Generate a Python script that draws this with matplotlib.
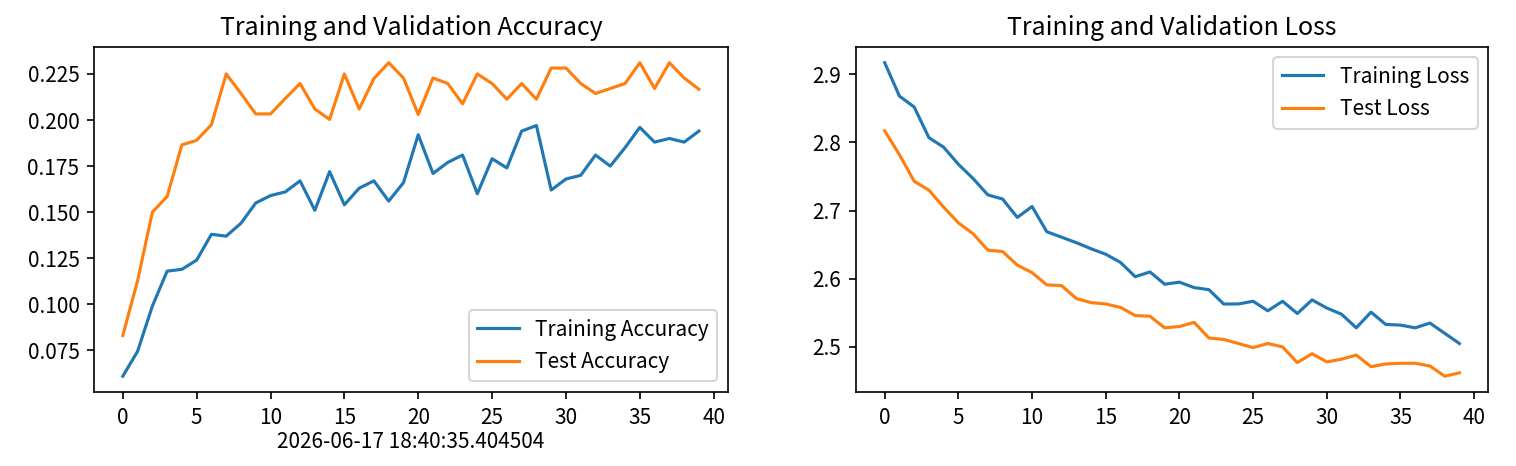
import numpy as np
import matplotlib
matplotlib.use("Agg")
import matplotlib.pyplot as plt

plt.rcParams['font.family'] = ['Noto Sans CJK SC', 'DejaVu Sans']
plt.rcParams['axes.unicode_minus'] = False

epochs = list(range(40))

train_acc = [0.061, 0.0745, 0.099, 0.118, 0.119, 0.124, 0.138, 0.137, 0.144, 0.155,
             0.159, 0.161, 0.167, 0.151, 0.172, 0.154, 0.163, 0.167, 0.156, 0.166,
             0.192, 0.171, 0.177, 0.181, 0.160, 0.179, 0.174, 0.194, 0.197, 0.162,
             0.168, 0.170, 0.181, 0.175, 0.185, 0.196, 0.188, 0.190, 0.188, 0.194]
test_acc = [0.0831, 0.1128, 0.150, 0.1585, 0.1865, 0.189, 0.1975, 0.225, 0.2144, 0.2033,
            0.2033, 0.2117, 0.2198, 0.206, 0.2003, 0.225, 0.206, 0.2225, 0.2311, 0.2228,
            0.203, 0.2228, 0.2198, 0.2088, 0.225, 0.2198, 0.2113, 0.2198, 0.2113, 0.2282,
            0.2282, 0.2198, 0.2144, 0.2171, 0.2198, 0.2311, 0.2171, 0.2311, 0.2228, 0.2167]

train_loss = [2.917, 2.868, 2.852, 2.807, 2.793, 2.768, 2.747, 2.723, 2.717, 2.690,
              2.706, 2.669, 2.661, 2.653, 2.644, 2.636, 2.624, 2.603, 2.610, 2.592,
              2.595, 2.587, 2.584, 2.563, 2.563, 2.567, 2.553, 2.567, 2.549, 2.569,
              2.557, 2.548, 2.528, 2.551, 2.533, 2.532, 2.528, 2.535, 2.520, 2.505]
test_loss = [2.817, 2.782, 2.743, 2.730, 2.705, 2.682, 2.666, 2.642, 2.640, 2.620,
             2.609, 2.591, 2.590, 2.571, 2.565, 2.563, 2.558, 2.546, 2.545, 2.528,
             2.530, 2.536, 2.513, 2.511, 2.505, 2.499, 2.505, 2.500, 2.477, 2.490,
             2.478, 2.482, 2.488, 2.471, 2.475, 2.476, 2.476, 2.472, 2.457, 2.462]

timestamp = "2026-06-17 18:40:35.404504"

fig = plt.figure(figsize=(10.107, 3.107), dpi=150)
ax1 = fig.add_axes([0.062, 0.159, 0.418, 0.740])
ax2 = fig.add_axes([0.5646, 0.159, 0.417, 0.740])

ax1.plot(epochs, train_acc, label='Training Accuracy')
ax1.plot(epochs, test_acc, label='Test Accuracy')
ax1.legend(loc='lower right')
ax1.set_title('Training and Validation Accuracy')
ax1.set_xlabel(timestamp, labelpad=1)

ax2.plot(epochs, train_loss, label='Training Loss')
ax2.plot(epochs, test_loss, label='Test Loss')
ax2.legend(loc='upper right')
ax2.set_title('Training and Validation Loss')

fig.savefig('out.png', dpi=150)
